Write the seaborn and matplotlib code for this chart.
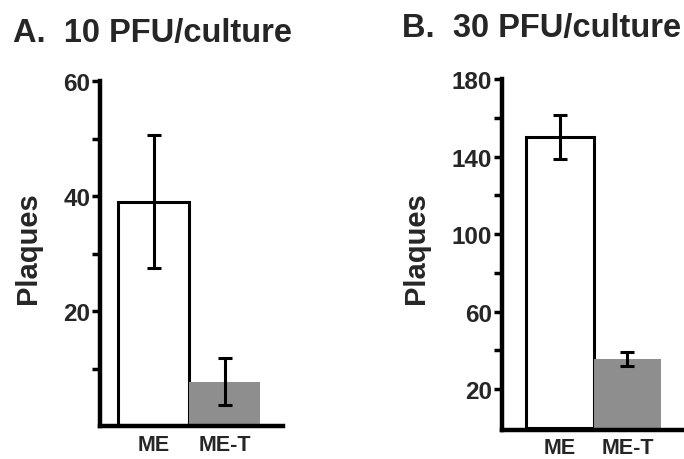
import pandas as pd
import matplotlib.pyplot as plt
import seaborn as sns
from matplotlib.ticker import FixedLocator

groups = ['ME', 'ME-T']

# panel A, 10 PFU/culture
a_means = [39.0, 7.7]
a_err = [11.6, 4.1]
a_major = [20, 40, 60]
a_minor = [10, 30, 50]

# panel B, 30 PFU/culture
b_means = [150.0, 35.5]
b_err = [11.5, 3.7]
b_major = [20, 60, 100, 140, 180]
b_minor = [40, 80, 120, 160]

bar_colors = ['white', '#8e8e8e']

sns.set_style('ticks')
plt.rcParams['font.family'] = ['Liberation Sans', 'DejaVu Sans']
plt.rcParams['font.weight'] = 'bold'

fig = plt.figure(figsize=(6.84, 4.6), dpi=100)
ax_a = fig.add_axes([100 / 684, 1 - 427 / 460, 183 / 684, 345 / 460])
ax_b = fig.add_axes([502 / 684, 1 - 431 / 460, 182 / 684, 351 / 460])


def draw_panel(ax, means, errs, major, minor, ylim, xlim, xpad):
    df = pd.DataFrame({'group': groups, 'plaques': means})
    sns.barplot(data=df, x='group', y='plaques', hue='group', palette=bar_colors,
                width=1.0, errorbar=None, legend=False, ax=ax, saturation=1)
    ax.patches[0].set_edgecolor('black')
    ax.patches[0].set_linewidth(2.2)
    ax.patches[1].set_linewidth(0)
    ax.errorbar(range(len(groups)), means, yerr=errs, fmt='none', ecolor='black',
                elinewidth=2.2, capsize=5, capthick=2.2)
    ax.set_ylim(*ylim)
    ax.set_xlim(*xlim)
    ax.set_yticks(major)
    ax.set_yticklabels([str(v) for v in major], fontsize=17.5, fontweight='bold')
    ax.yaxis.set_minor_locator(FixedLocator(minor))
    ax.set_xticks(range(len(groups)))
    ax.set_xticklabels(groups, fontsize=15.5, fontweight='bold')
    ax.tick_params(axis='y', which='both', direction='out', length=6, width=2.5,
                   pad=1, color='black')
    ax.tick_params(axis='x', length=0, pad=xpad)
    ax.set_xlabel('')
    ax.set_ylabel('')
    sns.despine(ax=ax)
    for side in ['left', 'bottom']:
        ax.spines[side].set_linewidth(3.2)
        ax.spines[side].set_color('black')


draw_panel(ax_a, a_means, a_err, a_major, a_minor, (0, 60), (-0.76, 1.82), 6)
draw_panel(ax_b, b_means, b_err, b_major, b_minor, (-1, 180), (-0.86, 1.84), 5)

fig.text(13 / 684, 1 - 42 / 460, 'A.  10 PFU/culture', fontsize=23.5, fontweight='bold',
         ha='left', va='baseline')
fig.text(402 / 684, 1 - 37 / 460, 'B.  30 PFU/culture', fontsize=23.5, fontweight='bold',
         ha='left', va='baseline')

for xpix in [28, 416]:
    fig.text(xpix / 684, 1 - 248 / 460, 'Plaques', rotation=90, ha='center', va='center',
             fontsize=21, fontweight='bold')

plt.savefig('out.png', dpi=100)
